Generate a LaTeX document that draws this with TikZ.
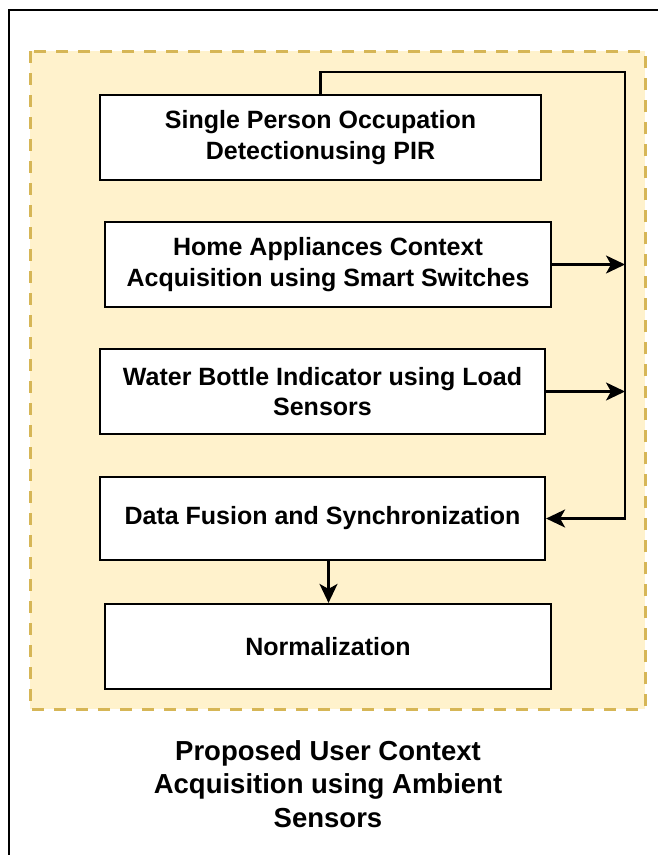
\documentclass[tikz,border=0pt]{standalone}
\usepackage{fontspec}
\setmainfont{Liberation Sans}
\usepackage{xcolor}
\usepackage{tikz}
\usetikzlibrary{arrows.meta,positioning}

\definecolor{panelfill}{HTML}{FFF2CC}
\definecolor{paneldraw}{HTML}{D6B656}

\begin{document}
\begin{tikzpicture}[
    x=1pt, y=-1pt,
    font=\bfseries\fontsize{25}{30.5}\selectfont,
    box/.style={draw, line width=2.2pt, fill=white, minimum width=445pt,
                minimum height=85pt, align=center, inner sep=3pt},
    panel/.style={draw=paneldraw, fill=panelfill, line width=3pt,
                  dash pattern=on 12pt off 10pt},
    flow/.style={line width=2.2pt, -{Stealth[length=19pt, width=18pt, inset=5pt]}}
  ]
    \useasboundingbox (0,0) rectangle (657,855);
    \draw[line width=2.2pt] (9,10) rectangle (700,900);
    \draw[panel] (30,51) rectangle (645,709);

    \node[box, minimum width=441pt] (occ) at (320.5,137.5)
      {Single Person Occupation\\Detectionusing PIR};
    \node[box, minimum width=446pt] (appl) at (328,264.5)
      {Home Appliances Context\\Acquisition using Smart Switches};
    \node[box] (water) at (322.5,391.5)
      {Water Bottle Indicator using Load\\Sensors};
    \node[box, minimum height=83pt] (fusion) at (322.5,518.5)
      {Data Fusion and Synchronization};
    \node[box, minimum width=446pt] (norm) at (328,646.5) {Normalization};

    \coordinate (bus) at (625,72);

    \draw[flow] (occ.north) |- (bus) |- (fusion.east);
    \draw[flow] (appl.east) -- (appl.east -| bus);
    \draw[flow] (water.east) -- (water.east -| bus);
    \draw[flow] ([xshift=6pt]fusion.south) -- ([xshift=6pt]fusion.south |- norm.north);

    \node[align=center, font=\bfseries\fontsize{27.5}{33.5}\selectfont] (cap) at (328,784)
      {Proposed User Context\\Acquisition using Ambient\\Sensors};
  \end{tikzpicture}
\end{document}
